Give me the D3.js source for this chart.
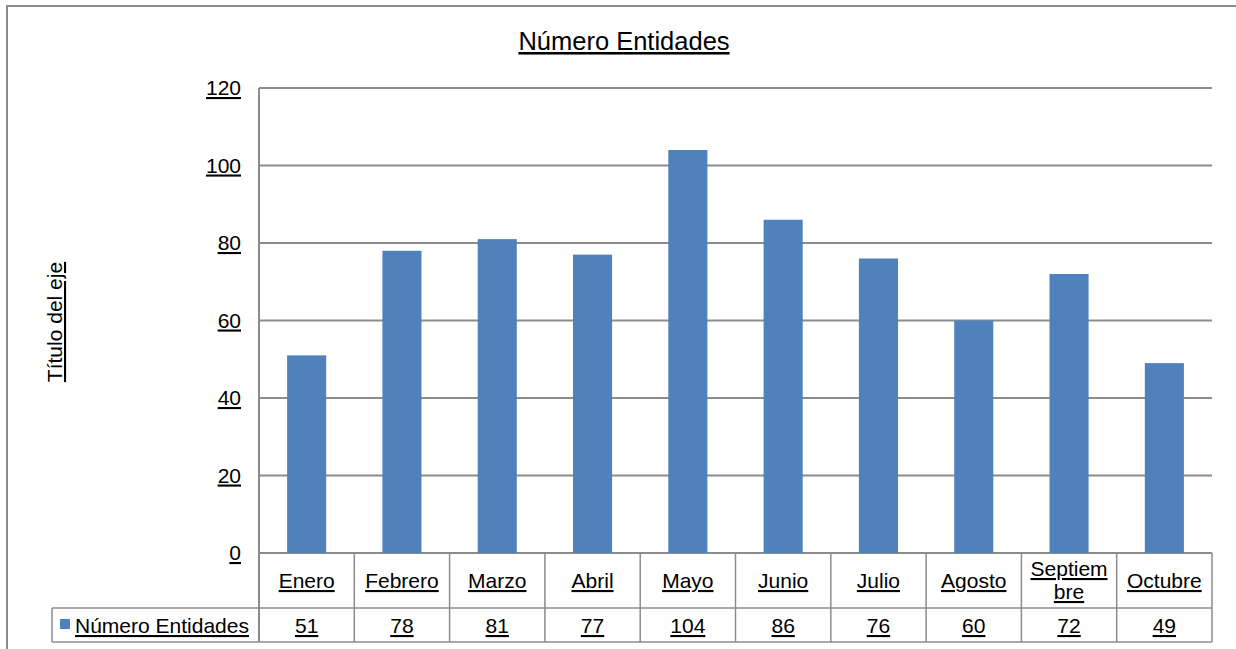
<!DOCTYPE html>
<html><head><meta charset="utf-8">
<script src="https://cdn.jsdelivr.net/npm/d3@7"></script>
<style>
body{margin:0;background:#fff;}
text{font-family:"Liberation Sans",Arial,sans-serif;fill:#000;text-decoration:underline;}
</style></head>
<body>
<svg id="c" width="1236" height="649"></svg>
<script>
const categories=["Enero","Febrero","Marzo","Abril","Mayo","Junio","Julio","Agosto","Septiembre","Octubre"];
const categoryLines=[["Enero"],["Febrero"],["Marzo"],["Abril"],["Mayo"],["Junio"],["Julio"],["Agosto"],["Septiem","bre"],["Octubre"]];
const values=[51,78,81,77,104,86,76,60,72,49];
const yTicks=[0,20,40,60,80,100,120];
const seriesName="Número Entidades";
const chartTitle="Número Entidades";
const yTitle="Título del eje";

const svg=d3.select("#c");
const L=259,R=1212,T=88,B=553;
const rowSplit=608,tableBottom=642,legendLeft=52;
const x=d3.scaleBand().domain(categories).range([L,R]).paddingInner(0.59).paddingOuter(0.295);
const xc=d3.scaleBand().domain(categories).range([L,R]);
const y=d3.scaleLinear().domain([0,120]).range([B,T]);
const grey="#8c8c8c";
const fs=21;

// outer border
svg.append("path").attr("d","M7,660V6H1245").attr("fill","none").attr("stroke",grey).attr("stroke-width",2);

// gridlines
svg.append("g").selectAll("line").data(yTicks).join("line")
 .attr("x1",L).attr("x2",R).attr("y1",d=>y(d)).attr("y2",d=>y(d))
 .attr("stroke",grey).attr("stroke-width",2);
svg.append("line").attr("x1",L).attr("x2",L).attr("y1",T).attr("y2",tableBottom).attr("stroke",grey).attr("stroke-width",2);

// y labels
svg.append("g").selectAll("text").data(yTicks).join("text")
 .attr("x",241).attr("y",d=>y(d)+7).attr("text-anchor","end").attr("font-size",fs).text(d=>d);

// bars
svg.append("g").selectAll("rect").data(values).join("rect")
 .attr("x",(d,i)=>x(categories[i])).attr("width",x.bandwidth())
 .attr("y",d=>y(d)).attr("height",d=>B-y(d)).attr("fill","#4f81bd");

// table
const tg=svg.append("g");
tg.selectAll("line.v").data(categories).join("line").attr("class","v")
 .attr("x1",d=>xc(d)+xc.bandwidth()).attr("x2",d=>xc(d)+xc.bandwidth())
 .attr("y1",B).attr("y2",tableBottom).attr("stroke",grey).attr("stroke-width",1.5);
tg.append("line").attr("x1",legendLeft).attr("x2",R).attr("y1",rowSplit).attr("y2",rowSplit).attr("stroke",grey).attr("stroke-width",1.5);
tg.append("line").attr("x1",legendLeft).attr("x2",R).attr("y1",tableBottom).attr("y2",tableBottom).attr("stroke",grey).attr("stroke-width",1.5);
tg.append("line").attr("x1",legendLeft).attr("x2",legendLeft).attr("y1",rowSplit).attr("y2",tableBottom).attr("stroke",grey).attr("stroke-width",1.5);

categoryLines.forEach((lines,i)=>{
  const cx=xc(categories[i])+xc.bandwidth()/2;
  const n=lines.length;
  lines.forEach((t,j)=>{
    tg.append("text").attr("x",cx).attr("y",n===1?588:576+j*23).attr("text-anchor","middle").attr("font-size",fs).text(t);
  });
});
tg.selectAll("text.val").data(values).join("text").attr("class","val")
 .attr("x",(d,i)=>xc(categories[i])+xc.bandwidth()/2).attr("y",633).attr("text-anchor","middle").attr("font-size",fs).text(d=>d);

// legend
tg.append("rect").attr("x",60).attr("y",619).attr("width",10).attr("height",10).attr("fill","#4f81bd");
tg.append("text").attr("x",75).attr("y",633).attr("font-size",fs).text(seriesName);

// title
svg.append("text").attr("x",624).attr("y",50).attr("text-anchor","middle").attr("font-size",25.5).text(chartTitle);
// y title
svg.append("text").attr("transform","translate(62,322) rotate(-90)").attr("text-anchor","middle").attr("font-size",fs).text(yTitle);
</script>
</body></html>
